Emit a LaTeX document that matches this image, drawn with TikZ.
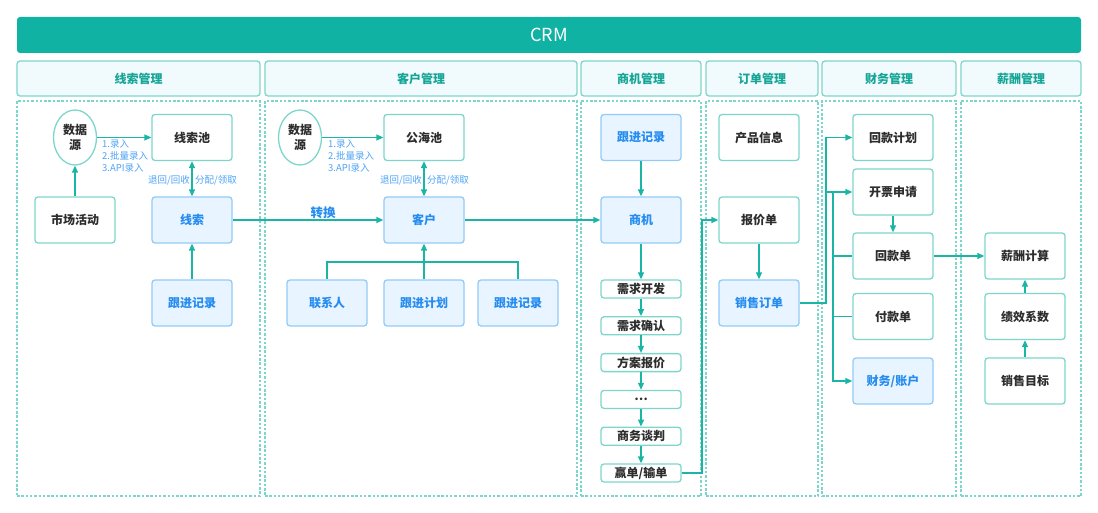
\documentclass[tikz,border=0pt]{standalone}
\usepackage{fontspec}
\setmainfont{Noto Sans CJK SC}
\usetikzlibrary{arrows.meta,positioning,shapes.geometric}
\definecolor{crmbar}{RGB}{16,178,163}
\definecolor{lnk}{RGB}{26,181,165}
\definecolor{edge}{RGB}{125,214,203}
\definecolor{hdrfill}{RGB}{241,250,253}
\definecolor{hdrtext}{RGB}{20,165,150}
\definecolor{bluefill}{RGB}{232,244,255}
\definecolor{blueedge}{RGB}{146,203,248}
\definecolor{bluetext}{RGB}{38,140,240}
\definecolor{lbltext}{RGB}{78,162,245}
\definecolor{ink}{RGB}{45,45,45}
\tikzset{
  bar/.style={fill=crmbar,rounded corners=3pt,inner sep=0pt,text=white,
    font=\fontsize{18}{20}\selectfont,minimum width=1064pt,minimum height=36pt},
  hdr/.style={draw=edge,fill=hdrfill,rounded corners=3pt,line width=1.3pt,inner sep=0pt,
    minimum height=35pt,font=\fontsize{12}{14}\selectfont\bfseries,text=hdrtext},
  panel/.style={draw=edge,dash pattern=on 2.5pt off 1.8pt,line width=1.2pt,inner sep=0pt,
    minimum height=395pt},
  box/.style={draw=edge,fill=white,rounded corners=3pt,line width=1.3pt,inner sep=0pt,
    minimum width=80pt,minimum height=46pt,font=\fontsize{12}{15}\selectfont\bfseries,
    text=ink,align=center},
  bbox/.style={box,draw=blueedge,fill=bluefill,text=bluetext},
  sbox/.style={box,minimum height=18pt},
  src/.style={ellipse,draw=edge,line width=1.3pt,inner sep=0pt,minimum width=43pt,
    minimum height=55pt,font=\fontsize{12}{15}\selectfont\bfseries,text=ink,align=center},
  arr/.style={-{Triangle[length=7pt,width=6pt]},draw=lnk,line width=1.3pt},
  both/.style={{Triangle[length=7pt,width=6pt]}-{Triangle[length=7pt,width=6pt]},draw=lnk,line width=1.3pt},
  wire/.style={draw=lnk,line width=1.3pt},
  lbl/.style={text=lbltext,font=\fontsize{9.5}{12}\selectfont,inner sep=0pt,align=left},
}

\begin{document}
\begin{tikzpicture}[x=1pt,y=-1pt]
\useasboundingbox (0,0) rectangle (1098,513);
\node[bar] (crm) at (549,35) {CRM};
% columns: header + dashed panel
\foreach \xa/\xb/\txt [count=\i] in {17/260/线索管理,265/577/客户管理,581/701/商机管理,
    706/818/订单管理,822/956/财务管理,961/1081/薪酬管理}{
  \pgfmathsetmacro\cx{(\xa+\xb)/2}
  \pgfmathsetmacro\colw{\xb-\xa}
  \node[hdr,minimum width=\colw pt] (hdr\i) at (\cx,78.5) {\txt};
  \node[panel,minimum width=\colw pt] (pan\i) at (\cx,298.5) {};
}
% leads
\node[src] (src1) at (75,137.5) {数据\\源};
\node[box] (pool1) at (192,137.5) {线索池};
\node[box] (mkt) at (75,220) {市场活动};
\node[bbox] (lead) at (192,220) {线索};
\node[bbox] (fol1) at (192,303) {跟进记录};
\node[lbl,anchor=north west] (in1) at (102,139.5) {1.录入\\2.批量录入\\3.API录入};
\draw[arr] (src1) -- (pool1);
\draw[arr] (mkt) -- (src1);
\draw[both] (pool1) -- (lead);
\node[lbl,anchor=east] (back1) at (190,180) {退回/回收};
\node[lbl,anchor=west] (give1) at (195,180) {分配/领取};
\draw[arr] (fol1) -- (lead);
% customers
\node[src] (src2) at (300,137.5) {数据\\源};
\node[box] (pool2) at (424,137.5) {公海池};
\node[bbox] (cust) at (424,220) {客户};
\node[bbox] (contact) at (327,303) {联系人};
\node[bbox] (plan) at (424,303) {跟进计划};
\node[bbox] (fol2) at (518,303) {跟进记录};
\node[lbl,anchor=north west] (in2) at (328,139.5) {1.录入\\2.批量录入\\3.API录入};
\draw[arr] (src2) -- (pool2);
\draw[both] (pool2) -- (cust);
\node[lbl,anchor=east] (back2) at (422,180) {退回/回收};
\node[lbl,anchor=west] (give2) at (427,180) {分配/领取};
\draw[arr] (lead) -- node[pos=0.6,above=1pt,inner sep=0pt,text=bluetext,
  font=\fontsize{12.5}{14}\selectfont\bfseries] (conv) {转换} (cust);
\coordinate (tree) at (424,262);
\draw[wire] (contact.north) |- (tree) -| (fol2.north);
\draw[arr] (plan) -- (cust);
% opportunities
\node[bbox] (fol3) at (641,137.5) {跟进记录};
\node[bbox] (opp) at (641,220) {商机};
\foreach \txt [count=\i] in {需求开发,需求确认,方案报价,{\ldots},商务谈判,{赢单/输单}}{
  \pgfmathsetmacro\yy{289+(\i-1)*36.8}
  \node[sbox] (st\i) at (641,\yy) {\txt};
}
\draw[arr] (fol3) -- (opp);
\draw[arr] (cust) -- (opp);
\draw[arr] (opp) -- (st1);
\foreach \i [evaluate=\i as \j using int(\i+1)] in {1,...,5}
  \draw[arr] (st\i) -- (st\j);
% orders
\node[box] (prod) at (759,137.5) {产品信息};
\node[box] (quote) at (759,220) {报价单};
\node[bbox] (order) at (759,303) {销售订单};
\coordinate (wbus) at (702,0);
\draw[arr] (st6.east) -- (st6.east -| wbus) |- (quote.west);
\draw[arr] (quote) -- (order);
% finance
\node[box] (plan5) at (893,137.5) {回款计划};
\node[box] (inv) at (893,192) {开票申请};
\node[box] (rcpt) at (893,256) {回款单};
\node[box] (pay) at (893,316.5) {付款单};
\node[bbox] (acct) at (893,381) {财务/账户};
\coordinate (obus) at (826,0);
\coordinate (fbus) at (833,0);
\draw[wire] (order.east) -- (order.east -| obus) -- (plan5.west -| obus);
\draw[arr] (plan5.west -| obus) -- (plan5.west);
\draw[arr] (inv.west -| obus) -- (inv.west);
\draw[arr] (inv.west -| fbus) |- (acct.west);
\draw[wire] (rcpt.west -| fbus) -- (rcpt.west);
\draw[wire] (pay.west -| fbus) -- (pay.west);
\draw[arr] (inv) -- (rcpt);
% salary
\node[box] (sal) at (1025,256) {薪酬计算};
\node[box] (kpi) at (1025,316.5) {绩效系数};
\node[box] (tgt) at (1025,381) {销售目标};
\draw[arr] (rcpt) -- (sal);
\draw[arr] (kpi) -- (sal);
\draw[arr] (tgt) -- (kpi);
\end{tikzpicture}
\end{document}
